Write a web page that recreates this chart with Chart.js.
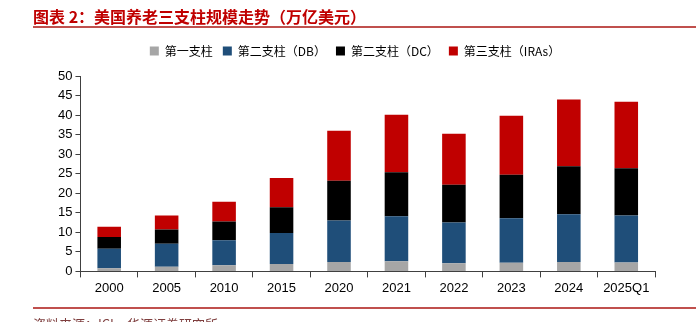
<!DOCTYPE html>
<html>
<head>
<meta charset="utf-8">
<script src="https://cdn.jsdelivr.net/npm/chart.js@4"></script>
<style>
  html, body { margin: 0; padding: 0; background: #fff; overflow: hidden; }
  #wrap { position: relative; width: 696px; height: 322px; }
  #title { position: absolute; left: 33px; top: 4px; font: bold 16px "Noto Sans CJK SC"; color: #c00000; }
  .rule { position: absolute; left: 33px; right: 0; height: 2px; background: #c0504d; }
  #src { position: absolute; left: 33px; top: 314px; font: 13px "Noto Sans CJK SC"; color: #7f3f3f; }
  #chartBox { position: absolute; left: 0; top: 0; width: 696px; height: 322px; }
</style>
</head>
<body>
<div id="wrap">
  <div id="chartBox"><canvas id="pillarChart"></canvas></div>
  <div id="title">图表 2：美国养老三支柱规模走势（万亿美元）</div>
  <div class="rule" style="top:26px"></div>
  <div class="rule" style="top:307px"></div>
  <div id="src">资料来源：ICI，华源证券研究所</div>
</div>
<script>
// 年份
const years = ['2000', '2005', '2010', '2015', '2020', '2021', '2022', '2023', '2024', '2025Q1'];

// 各支柱规模（万亿美元）
const pillar1 = [0.8, 1.2, 1.6, 1.9, 2.4, 2.6, 2.1, 2.2, 2.4, 2.3];
const pillar2DB = [5.0, 5.9, 6.4, 7.9, 10.6, 11.5, 10.4, 11.4, 12.2, 12.0];
const pillar2DC = [3.0, 3.6, 4.8, 6.6, 10.2, 11.3, 9.7, 11.1, 12.3, 12.1];
const pillar3IRA = [2.6, 3.6, 5.0, 7.5, 12.8, 14.7, 13.0, 15.1, 17.1, 17.0];

const seriesNames = ['第一支柱', '第二支柱（DB）', '第二支柱（DC）', '第三支柱（IRAs）'];
const seriesColors = ['#a6a6a6', '#1f4e79', '#000000', '#c00000'];

const yTicks = [0, 5, 10, 15, 20, 25, 30, 35, 40, 45, 50];

const ctx = document.getElementById('pillarChart').getContext('2d');

const allSeries = [pillar1, pillar2DB, pillar2DC, pillar3IRA];

const pillarData = {
    labels: years,
    datasets: allSeries.map((vals, i) => ({
        label: seriesNames[i],
        data: vals,
        backgroundColor: seriesColors[i],
        borderWidth: 0,
        categoryPercentage: 1.0,
        barPercentage: 0.41,
    }))
};

const axisColor = '#404040';

// 凡例の下に余白を足す
const legendGap = {
    id: 'legendGap',
    beforeInit(chart) {
        const origFit = chart.legend.fit;
        chart.legend.fit = function () {
            origFit.bind(chart.legend)();
            this.height += 9;
        };
    }
};

const pillarOptions = {
    responsive: true,
    maintainAspectRatio: false,
    animation: false,
    layout: { padding: { top: 35, left: 55, right: 41, bottom: 23 } },
    scales: {
        x: {
            stacked: true,
            grid: { drawOnChartArea: false, drawTicks: true, tickLength: 6, color: axisColor, offset: true },
            border: { display: true, color: axisColor, width: 1 },
            ticks: { color: '#000', font: { family: 'Liberation Sans', size: 13 }, padding: 3 }
        },
        y: {
            stacked: true,
            min: 0,
            max: 50,
            afterBuildTicks: (axis) => { axis.ticks = yTicks.map(v => ({ value: v })); },
            grid: { drawOnChartArea: false, drawTicks: true, tickLength: 5, color: axisColor },
            border: { display: true, color: axisColor, width: 1 },
            ticks: { color: '#000', font: { family: 'Liberation Sans', size: 13 }, padding: 3 }
        }
    },
    plugins: {
        legend: {
            position: 'top',
            labels: {
                color: '#000',
                boxWidth: 9,
                boxHeight: 9,
                padding: 10,
                font: { family: '"Noto Sans CJK SC"', size: 12 }
            }
        },
        tooltip: { enabled: false }
    }
};

new Chart(ctx, {
    type: 'bar',
    data: pillarData,
    options: pillarOptions,
    plugins: [legendGap],
});
</script>
</body>
</html>
